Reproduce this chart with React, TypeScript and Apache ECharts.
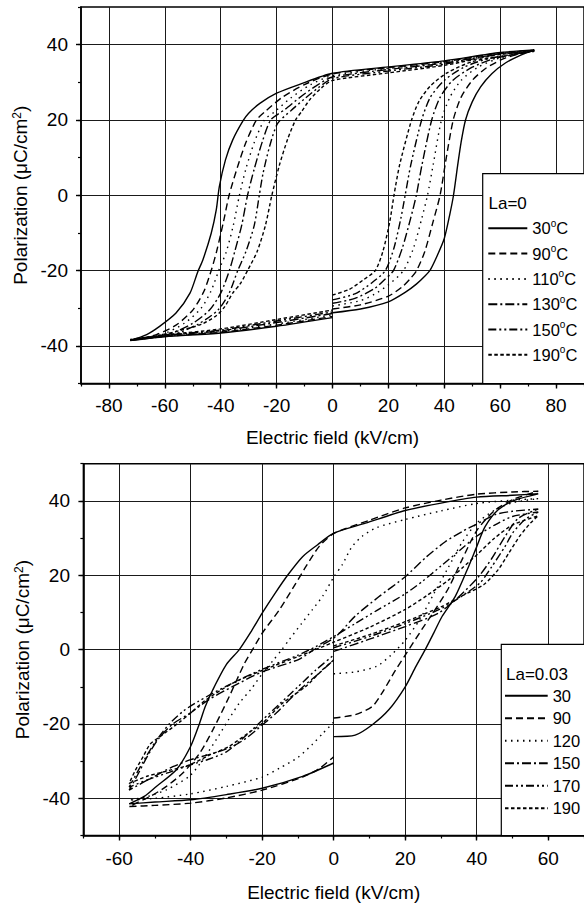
import React, { useEffect, useRef } from 'react';
import * as echarts from 'echarts';

const FONT = '"Liberation Sans", Arial, Helvetica, sans-serif';

// ---------- Top panel: La = 0 ----------
const topNames = ['30°C', '90°C', '110°C', '130°C', '150°C', '190°C'];
const la0_30 = [
  [0, -31.2], [10, -30.2], [20, -28.3], [26, -25.8], [30, -23.6], [33, -21.5], [35, -19.8], [37.5, -16], [40, -11.5], [42, -5], [43.3, 0], [44.8, 8], [46, 14], [47.6, 20], [50, 24.8], [53, 28.8], [57, 32.3], [62, 35.2], [67, 37.1], [72.2, 38.6],
  [60, 37.9], [40, 35.7], [20, 34.1], [0, 32.4], [-12, 29.4], [-20, 27.1], [-26, 24.4], [-30, 21.8], [-32, 19.8], [-35.7, 14.7], [-38.3, 9.4], [-40.5, 2.3], [-41.6, -3.9], [-43.4, -10.1], [-46.4, -17.2], [-48.2, -20.3], [-51, -26], [-56, -31.3], [-62, -34.9], [-66.5, -37], [-72.4, -38.6],
  [-60, -37.6], [-40, -36.6], [-20, -34.8], [0, -32.5],
];
const la0_90 = [
  [0, -30.2], [10, -29.1], [20, -26.8], [25, -24.3], [28, -22], [30.1, -20], [33, -15], [36, -7], [38.5, 0], [40.5, 9], [43.2, 20], [46, 26], [50, 30.5], [55, 33.8], [62, 36.5], [72.2, 38.5],
  [60, 37.8], [40, 35.5], [20, 33.9], [0, 32.2], [-10, 29.4], [-18, 26], [-24, 22.3], [-27.2, 20], [-31, 14], [-34, 7.5], [-37, 0], [-39, -7], [-41.5, -15], [-43.4, -20], [-46, -25.5], [-50, -30.5], [-56, -34.5], [-63, -37], [-72.4, -38.6],
  [-60, -37.5], [-40, -36.4], [-20, -34.5], [0, -32.2],
];
const la0_110 = [
  [0, -29.4], [10, -28], [15, -26.3], [20, -23.8], [25.4, -20], [29, -14], [32, -6], [34, 0], [36, 8], [39, 20], [42, 26], [46, 30.5], [52, 34], [60, 36.5], [72.2, 38.4],
  [60, 37.7], [40, 35.3], [20, 33.7], [0, 31.8], [-8, 29.3], [-15, 25.8], [-21, 22], [-24.4, 20], [-28, 14], [-31, 7], [-33.3, 0], [-35.5, -8], [-38, -15], [-40.7, -20], [-43.5, -25.5], [-47, -30], [-53, -34], [-61, -37], [-72.4, -38.6],
  [-60, -37.4], [-40, -36.2], [-20, -34.2], [0, -31.8],
];
const la0_130 = [
  [0, -28.7], [8, -27.4], [15, -24.8], [18.5, -22.5], [21.8, -20], [25, -14], [28, -6], [30, 0], [32, 8], [35.5, 20], [38.5, 26], [43, 30.5], [50, 34], [58, 36.3], [72.2, 38.4],
  [60, 37.6], [40, 35.1], [20, 33.4], [0, 31.4], [-6, 29], [-12, 25.8], [-17, 22.8], [-22.1, 20], [-25, 14.5], [-28, 7], [-30.4, 0], [-32.5, -8], [-35, -15], [-36.9, -20], [-40, -26], [-44, -30.5], [-50, -34], [-59, -37], [-72.4, -38.5],
  [-60, -37.3], [-40, -36], [-20, -33.8], [0, -31.4],
];
const la0_150 = [
  [0, -27.8], [8, -26.2], [14, -23.3], [18.9, -20], [22, -14], [24.5, -6], [26, 0], [28, 8], [31.9, 20], [35, 26], [40, 30.5], [47, 34], [56, 36.3], [72.2, 38.3],
  [60, 37.5], [40, 34.8], [20, 33], [0, 31], [-5, 28.6], [-10, 25.6], [-15, 22.4], [-19.7, 19], [-22.5, 13], [-24.8, 6], [-26.2, 0], [-28, -8], [-31, -15], [-33.9, -20], [-37, -26], [-41, -30.5], [-48, -34.2], [-57, -37], [-72.4, -38.4],
  [-60, -37.2], [-40, -35.8], [-20, -33.4], [0, -31],
];
const la0_190 = [
  [0, -26.5], [6, -25], [11, -22.5], [15.3, -20], [18, -15], [20.5, -7], [22, 0], [24, 8], [28.3, 20], [31, 25], [35, 29], [41, 32.5], [50, 35.5], [60, 36.8], [72.2, 38.2],
  [60, 37.4], [40, 34.5], [20, 32.5], [0, 30.5], [-4, 28.5], [-8, 25.5], [-11, 22.3], [-13.2, 20], [-16, 15], [-19, 8], [-21.7, 0], [-24, -8], [-27, -15], [-30.4, -20], [-33, -23.5], [-35.7, -26], [-38.5, -29.5], [-41.6, -32], [-47, -34.3], [-54, -35.8], [-62, -37.2], [-72.4, -38.3],
  [-60, -37.1], [-40, -35.5], [-20, -33], [0, -30.5],
];

// ---------- Bottom panel: La = 0.03 ----------
const botNames = ['30', '90', '120', '150', '170', '190'];
const la3_30 = [
  [0, -23.4], [6, -23], [10.8, -20.2], [15.4, -16.2], [20, -10], [23, -4.5], [25.6, 0], [28, 4.5], [30.3, 8.9], [34, 14.3], [37.7, 22.3], [40, 27.7], [42.3, 33], [46, 37.6], [50.7, 40.2], [57.2, 41.9],
  [50, 41.5], [40, 41], [30, 39.4], [20, 37.4], [8.9, 34], [0, 31.3], [-4.5, 28.2], [-8.7, 25], [-12.9, 20], [-16.5, 15], [-20, 9.8], [-23, 5], [-26.4, 0], [-30, -4], [-33.8, -10.8], [-36, -15.5], [-37.5, -19.8], [-40, -26], [-44, -32.3], [-49.6, -36.8], [-53, -39.5], [-57.2, -41.5],
  [-50, -41], [-40, -40.4], [-30, -39], [-20, -37.3], [-8.7, -34.1], [0, -30.5],
];
const la3_90 = [
  [0, -18.4], [6, -17.5], [10.8, -15.3], [13.5, -11.7], [17.3, -5.5], [20, -1.5], [24.7, 5.5], [27.5, 9.5], [32.1, 16.5], [35.8, 24], [40, 32], [45.1, 37.5], [50.7, 40.6], [57.2, 42.6],
  [50, 42.4], [40, 41.8], [30, 40.2], [20, 38.1], [10, 34.8], [0, 31.2], [-4.1, 27.7], [-7.8, 22.3], [-10.6, 17.8], [-15.2, 10.7], [-20, 4.4], [-22.7, 0], [-25, -3.8], [-29.2, -12.6], [-33.8, -21.6], [-37.5, -27.9], [-42.2, -33.2], [-46.8, -36.8], [-51, -39.3], [-57.2, -42.2],
  [-50, -41.9], [-40, -41.3], [-30, -39.9], [-20, -37.8], [-8.7, -34.3], [-4, -32], [0, -28.8],
];
const la3_120 = [
  [0, -6.5], [6, -6], [12, -4.5], [16, -1.5], [20, 2.5], [24, 8], [28, 15], [32, 22], [36, 29], [40, 34], [45, 37.5], [50, 39.5], [57.2, 40.6],
  [50, 40.2], [40, 39.3], [30, 37.3], [20, 35], [12, 32.8], [8, 30.5], [5, 27.5], [2.5, 23], [0, 19.5], [-3, 14.5], [-6, 10.7], [-9, 7], [-12.5, 2.6], [-14.5, 0], [-17, -3], [-20, -6.5], [-23, -10.5], [-26.4, -14.4], [-29.5, -19], [-32.9, -24.3], [-36.5, -29.5], [-40.3, -34], [-46.8, -37.7], [-52, -39.5], [-57.2, -40.5],
  [-50, -40], [-40, -38.8], [-30, -36.8], [-20, -34.3], [-15, -31.8], [-10, -29], [-6, -25.5], [-3, -22.5], [0, -19.5],
];
const la3_150 = [
  [0, -0.5], [10, 2.8], [20, 6.2], [29.3, 9.8], [35, 14.2], [40.5, 19.6], [44.2, 24.5], [47.9, 30.4], [51.6, 35.3], [57.2, 37.8],
  [50, 37.2], [45.1, 36.3], [40.5, 34], [36, 31.8], [31.2, 29], [26, 25], [20, 19.6], [12.6, 14.2], [6, 9], [0.6, 3.5], [-5, 0.3], [-9.7, -2.6], [-20, -6], [-28.2, -9.9], [-35, -13.5], [-40, -17], [-45, -20], [-49, -24], [-52, -28.5], [-55, -34], [-57.2, -37.8],
  [-50, -34], [-45, -31.5], [-40, -29.6], [-34, -28], [-28.2, -26], [-24, -23.5], [-20, -20.3], [-16, -17], [-12.4, -13.5], [-8, -9.5], [-4, -6.3], [0, -2.8],
];
const la3_170 = [
  [0, 0.5], [10, 3.5], [20, 7], [30, 11], [36, 14.5], [41, 18], [44.2, 22.3], [47.9, 27.7], [50, 31.3], [53.5, 35], [57.2, 37],
  [50, 35.8], [45, 33.5], [40, 30.5], [35, 26.5], [30, 22.5], [25, 18.5], [20, 15], [12, 10.5], [6, 7], [0, 3.5], [-5, 0.8], [-10, -1.5], [-20, -5.3], [-30, -9.8], [-38, -14], [-42, -16.5], [-46, -20], [-50, -25], [-53.5, -30.5], [-57.2, -37],
  [-52, -35], [-46, -33], [-40, -31], [-35, -29.5], [-30, -27.5], [-25, -23.5], [-20, -19], [-15, -14.5], [-10, -10], [-5, -5.5], [0, -1.5],
];
const la3_190 = [
  [0, 1], [10, 4], [20, 7.5], [30, 11.5], [36, 14.5], [42, 17.5], [46, 21.5], [49, 26], [52, 30.5], [55, 34], [57.2, 36],
  [50, 33.5], [45, 30], [40.5, 25.9], [36, 22], [32.1, 18.7], [26, 14.5], [20, 10.8], [10, 6], [0, 2], [-10, -1.9], [-20, -5.6], [-28.2, -9], [-35.7, -13.5], [-40, -17], [-43.1, -19.5], [-48.7, -23.5], [-51.4, -25.5], [-53.3, -28.8], [-55.5, -32.5], [-57.2, -36],
  [-52, -34], [-46, -32.5], [-40.3, -31], [-35, -28.5], [-29.2, -26], [-24, -22.5], [-20, -19.8], [-14.3, -14.4], [-7.8, -9.9], [-3.2, -5.5], [0, -2.8],
];

const topXLabels = [-80, -60, -40, -20, 0, 20, 40, 60, 80];
const botXLabels = [-60, -40, -20, 0, 20, 40, 60];
const yLabels = [-40, -20, 0, 20, 40];

const topSeries = [la0_30, la0_90, la0_110, la0_130, la0_150, la0_190];
const botSeries = [la3_30, la3_90, la3_120, la3_150, la3_170, la3_190];

// line styles (solid, dash, dot, dash-dot, dash-dot-dot, short dash)
const dashStyles: any[] = ['solid', [7, 4], [1.5, 4.5], [9, 3, 2, 3], [8, 3, 2, 3, 2, 3], [3.5, 2.5]];

function mainX(gridIndex: number, min: number, max: number, labels: number[], nameGap: number, margin: number) {
  return {
    type: 'value', gridIndex, min, max, interval: 10, position: 'bottom',
    name: 'Electric field (kV/cm)', nameLocation: 'middle', nameGap,
    nameTextStyle: { fontSize: 19, fontFamily: FONT, color: '#000' },
    axisLine: { show: true, onZero: false, lineStyle: { color: '#000', width: 1.6 } },
    axisTick: { show: true, length: 5, customValues: labels, lineStyle: { color: '#000', width: 1.4 } },
    axisLabel: {
      show: true, customValues: labels, margin, fontSize: 19, fontFamily: FONT, color: '#000',
      formatter: (v: number) => (labels.includes(v) ? String(v) : ''),
    },
    splitLine: { show: false },
  };
}
function minorX(gridIndex: number, min: number, max: number) {
  return {
    type: 'value', gridIndex, min, max, interval: 10, position: 'bottom',
    axisLine: { show: false, onZero: false },
    axisTick: { show: true, length: 3, lineStyle: { color: '#000', width: 1.2 } },
    axisLabel: { show: false },
    splitLine: { show: true, lineStyle: { color: ['rgba(0,0,0,0)', '#1a1a1a'], width: 1 } },
  };
}
function mainY(gridIndex: number, nameGap: number, margin: number) {
  return {
    type: 'value', gridIndex, min: -50, max: 50, interval: 10, position: 'left',
    name: 'Polarization (μC/cm{s|2})', nameLocation: 'middle', nameGap,
    nameTextStyle: {
      fontSize: 19, fontFamily: FONT, color: '#000',
      rich: { s: { fontSize: 12, lineHeight: 12, verticalAlign: 'top', fontFamily: FONT, color: '#000' } },
    },
    axisLine: { show: true, onZero: false, lineStyle: { color: '#000', width: 1.6 } },
    axisTick: { show: true, length: 5, customValues: yLabels, lineStyle: { color: '#000', width: 1.4 } },
    axisLabel: {
      show: true, customValues: yLabels, margin, fontSize: 19, fontFamily: FONT, color: '#000',
      formatter: (v: number) => (yLabels.includes(v) ? String(v) : ''),
    },
    splitLine: { show: false },
  };
}
function minorY(gridIndex: number) {
  return {
    type: 'value', gridIndex, min: -50, max: 50, interval: 10, position: 'left',
    axisLine: { show: false, onZero: false },
    axisTick: { show: true, length: 3, lineStyle: { color: '#000', width: 1.2 } },
    axisLabel: { show: false },
    splitLine: { show: true, lineStyle: { color: ['rgba(0,0,0,0)', '#1a1a1a'], width: 1 } },
  };
}

function legendFmt(name: string) {
  return name.endsWith('°C') ? name.slice(0, -2) + '{s|o}C' : name;
}

export default function App() {
  const ref = useRef<HTMLDivElement>(null);
  useEffect(() => {
    if (!ref.current) return;
    const chart = echarts.init(ref.current, undefined, { renderer: 'svg' });

    const series: any[] = [];
    topSeries.forEach((d, i) => {
      series.push({
        type: 'line', name: topNames[i], data: d, xAxisIndex: 0, yAxisIndex: 0,
        symbol: 'none', showSymbol: false, smooth: 0.25, z: 3,
        lineStyle: { color: '#000', width: 1.4, type: dashStyles[i] }, itemStyle: { color: '#000' },
      });
    });
    botSeries.forEach((d, i) => {
      series.push({
        type: 'line', name: botNames[i], data: d, xAxisIndex: 2, yAxisIndex: 2,
        symbol: 'none', showSymbol: false, smooth: 0.25, z: 3,
        lineStyle: { color: '#000', width: 1.4, type: dashStyles[i] }, itemStyle: { color: '#000' },
      });
    });

    const legendText = {
      fontSize: 16.5, fontFamily: FONT, color: '#000', lineHeight: 20,
      rich: { s: { fontSize: 10, lineHeight: 9, verticalAlign: 'top', fontFamily: FONT, color: '#000' } },
    };
    const hiddenSymbol = { color: 'rgba(0,0,0,0)', borderColor: 'rgba(0,0,0,0)', borderWidth: 0, opacity: 0 };

    const option: any = {
      animation: false,
      backgroundColor: '#fff',
      grid: [
        { left: 81, top: 7, width: 505.6, height: 376.5, show: true, borderColor: '#000', borderWidth: 1.5, backgroundColor: 'transparent' },
        { left: 83.4, top: 463.7, width: 502.6, height: 372, show: true, borderColor: '#000', borderWidth: 1.5, backgroundColor: 'transparent' },
      ],
      xAxis: [
        mainX(0, -90, 90, topXLabels, 44, 12),
        minorX(0, -90, 90),
        mainX(1, -70, 70, botXLabels, 47.5, 13),
        minorX(1, -70, 70),
      ],
      yAxis: [mainY(0, 50, 13), minorY(0), mainY(1, 51, 13.4), minorY(1)],
      legend: [
        {
          orient: 'vertical', left: 482.7, top: 173.7, selectedMode: false,
          data: topNames, formatter: legendFmt,
          itemWidth: 39, itemHeight: 20, itemGap: 5.3,
          itemStyle: hiddenSymbol,
          padding: [44.6, 20, 18.7, 4.6],
          backgroundColor: '#fff', borderColor: '#000', borderWidth: 1.2,
          textStyle: legendText,
        },
        {
          orient: 'vertical', left: 501.3, top: 644.3, selectedMode: false,
          data: botNames,
          itemWidth: 42.7, itemHeight: 20, itemGap: 2.5,
          itemStyle: hiddenSymbol,
          padding: [41.4, 20, 17.5, 2.7],
          backgroundColor: '#fff', borderColor: '#000', borderWidth: 1.2,
          textStyle: legendText,
        },
      ],
      graphic: [
        { type: 'text', x: 488.5, y: 203, z: 100, style: { text: 'La=0', fontSize: 17, fontFamily: FONT, fill: '#000', verticalAlign: 'middle' } },
        { type: 'text', x: 506, y: 674, z: 100, style: { text: 'La=0.03', fontSize: 17, fontFamily: FONT, fill: '#000', verticalAlign: 'middle' } },
      ],
      series,
    };
    chart.setOption(option);
    return () => chart.dispose();
  }, []);
  return <div ref={ref} style={{ position: 'fixed', left: 0, top: 0, width: 584, height: 903 }} />;
}
